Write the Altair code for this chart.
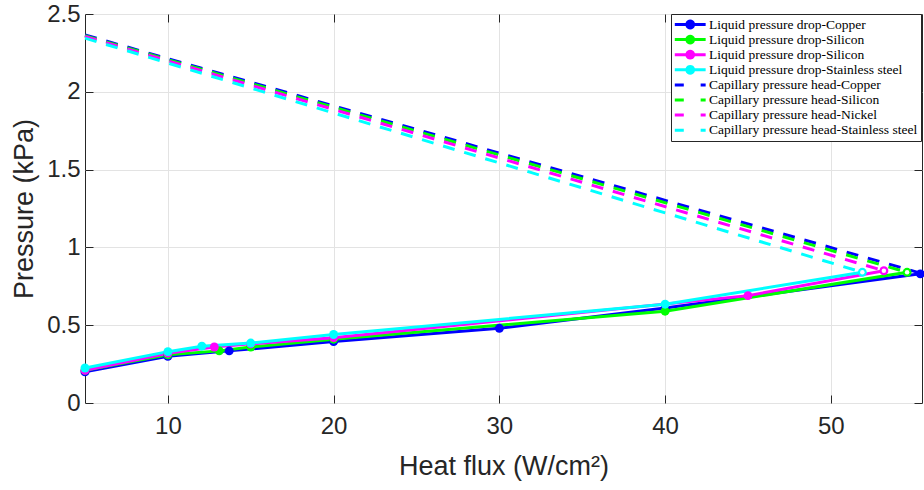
import math
import altair as alt
import pandas as pd

# ---------------- data ----------------
liq_names = ["Liquid pressure drop-Copper", "Liquid pressure drop-Silicon",
             "Liquid pressure drop-Nickel", "Liquid pressure drop-Stainless steel"]
cap_names = ["Capillary pressure head-Copper", "Capillary pressure head-Silicon",
             "Capillary pressure head-Nickel", "Capillary pressure head-Stainless steel"]
colors = ["#0000ff", "#00ff00", "#ff00ff", "#00ffff"]

cu_liq_x = [5, 10, 13.7, 20, 30, 40, 55.4]
cu_liq_y = [0.20, 0.30, 0.335, 0.395, 0.48, 0.61, 0.83]
si_liq_x = [5, 10, 13.1, 15, 20, 40, 54.6]
si_liq_y = [0.21, 0.31, 0.335, 0.36, 0.41, 0.59, 0.84]
ni_liq_x = [5, 10, 12.8, 15, 20, 45, 53.2]
ni_liq_y = [0.21, 0.32, 0.36, 0.38, 0.42, 0.69, 0.85]
ss_liq_x = [5, 10, 12.05, 15, 20, 40, 51.9]
ss_liq_y = [0.225, 0.33, 0.365, 0.385, 0.44, 0.635, 0.84]
# last markers drawn open (ring) in the reference
open_end = [False, True, True, True]

cu_cap_x = [5, 55.4]
cu_cap_y = [2.365, 0.835]
si_cap_x = [5, 54.6]
si_cap_y = [2.36, 0.84]
ni_cap_x = [5, 53.2]
ni_cap_y = [2.355, 0.85]
ss_cap_x = [5, 51.9]
ss_cap_y = [2.345, 0.84]

x_ticks = [10, 20, 30, 40, 50]
y_ticks = [0, 0.5, 1, 1.5, 2, 2.5]

# ---------------- tables ----------------
def rows(name, xs, ys, ring=False):
    n = len(xs)
    return [{"series": name, "x": a, "y": b, "ring": bool(ring and i == n - 1)}
            for i, (a, b) in enumerate(zip(xs, ys))]

liq = pd.DataFrame(
    rows(liq_names[0], cu_liq_x, cu_liq_y, open_end[0])
    + rows(liq_names[1], si_liq_x, si_liq_y, open_end[1])
    + rows(liq_names[2], ni_liq_x, ni_liq_y, open_end[2])
    + rows(liq_names[3], ss_liq_x, ss_liq_y, open_end[3]))
cap = pd.DataFrame(
    rows(cap_names[0], cu_cap_x, cu_cap_y) + rows(cap_names[1], si_cap_x, si_cap_y)
    + rows(cap_names[2], ni_cap_x, ni_cap_y) + rows(cap_names[3], ss_cap_x, ss_cap_y))

# ---------------- scales / axes / legend ----------------
DARK = "#262626"
GRID = "#e3e3e3"
xs = alt.Scale(domain=[5, 55.5], nice=False, zero=False)
ys = alt.Scale(domain=[0, 2.5], nice=False, zero=False)
color_scale = alt.Scale(domain=liq_names + cap_names, range=colors + colors)

axis_bottom = alt.Axis(orient="bottom", values=x_ticks, offset=-8, tickSize=8, tickColor=DARK,
                       domain=False, grid=True, gridColor=GRID, labelPadding=11,
                       labelFont="Liberation Sans", labelFontSize=24, labelColor=DARK,
                       title="Heat flux (W/cm²)", titleFont="Liberation Sans", titleFontSize=27,
                       titleFontWeight="normal", titleColor=DARK, titlePadding=15)
axis_left = alt.Axis(orient="left", values=y_ticks, offset=-8, tickSize=8, tickColor=DARK,
                     domain=False, grid=True, gridColor=GRID, labelPadding=5,
                     labelFont="Liberation Sans", labelFontSize=24, labelColor=DARK,
                     labelExpr="datum.value == 0 ? '0' : format(datum.value, '')",
                     title="Pressure (kPa)", titleFont="Liberation Sans", titleFontSize=27,
                     titleFontWeight="normal", titleColor=DARK, titlePadding=8)
axis_top = alt.Axis(orient="top", values=x_ticks, offset=-8, tickSize=8, tickColor=DARK,
                    domain=False, grid=False, labels=False, title=None)
axis_right = alt.Axis(orient="right", values=y_ticks, offset=-8, tickSize=8, tickColor=DARK,
                      domain=False, grid=False, labels=False, title=None)

# legend glyphs built from filled shapes only (unit = sqrt(symbolSize)/2 px)
SYM_SIZE = 180
U = math.sqrt(SYM_SIZE) / 2.0
HALF_T = 1.5 / U          # half line thickness (3 px line)
X0, X1 = -1.0, 3.6        # 31 px long glyph


def rect(a, b):
    return "M%.3f,%.3fL%.3f,%.3fL%.3f,%.3fL%.3f,%.3fZ" % (a, -HALF_T, b, -HALF_T, b, HALF_T, a, HALF_T)


cx, r = (X0 + X1) / 2.0, 4.9 / U
circle = "M" + "L".join("%.3f,%.3f" % (cx + r * math.cos(2 * math.pi * k / 20),
                                       r * math.sin(2 * math.pi * k / 20)) for k in range(20)) + "Z"
LIQ_PATH = rect(X0, X1) + circle
CAP_PATH = rect(X0, X0 + 9 / U) + rect(X1 - 5 / U, X1)

legend = alt.Legend(
    title=None, orient="none", legendX=586, legendY=0, direction="vertical",
    fillColor="white", strokeColor=DARK, padding=3.5, symbolOffset=0, rowPadding=1.1,
    symbolSize=SYM_SIZE, symbolStrokeWidth=0, labelFont="Liberation Serif", labelFontSize=13.5,
    labelColor="black", labelOffset=20.6, labelLimit=0, symbolLimit=0,
    labelExpr="datum.label == 'Liquid pressure drop-Nickel' ? 'Liquid pressure drop-Silicon' : datum.label",
    symbolType={"expr": "indexof(datum.value, 'Capillary') == 0 ? '%s' : '%s'" % (CAP_PATH, LIQ_PATH)},
    symbolFillColor={"expr": "scale('color', datum.value)"},
)

liq_lines = alt.Chart(liq).mark_line(strokeWidth=3).encode(
    x=alt.X("x:Q", scale=xs, axis=axis_bottom),
    y=alt.Y("y:Q", scale=ys, axis=axis_left),
    color=alt.Color("series:N", scale=color_scale, legend=legend),
)
cap_lines = alt.Chart(cap).mark_line(strokeWidth=3, strokeDash=[12, 10]).encode(
    x=alt.X("x:Q", scale=xs, axis=axis_top),
    y=alt.Y("y:Q", scale=ys, axis=axis_right),
    color=alt.Color("series:N", scale=color_scale),
)
liq_points = alt.Chart(liq).mark_point(filled=True, size=80, opacity=1).encode(
    x=alt.X("x:Q", scale=xs, axis=None),
    y=alt.Y("y:Q", scale=ys, axis=None),
    color=alt.Color("series:N", scale=color_scale),
)
ring_holes = alt.Chart(liq).transform_filter("datum.ring").mark_point(
    filled=True, size=20, opacity=1, color="white"
).encode(
    x=alt.X("x:Q", scale=xs, axis=None),
    y=alt.Y("y:Q", scale=ys, axis=None),
)

chart = alt.layer(liq_lines, cap_lines, liq_points, ring_holes).resolve_axis(
    x="independent", y="independent"
).properties(
    width=837, height=389,
    autosize=alt.AutoSizeParams(type="none"),
    padding={"left": 85, "top": 14, "right": 2, "bottom": 87},
    background="white",
).configure_view(stroke=DARK, strokeWidth=1)

chart.save("out.html", embed_options={"renderer": "svg", "actions": False})
